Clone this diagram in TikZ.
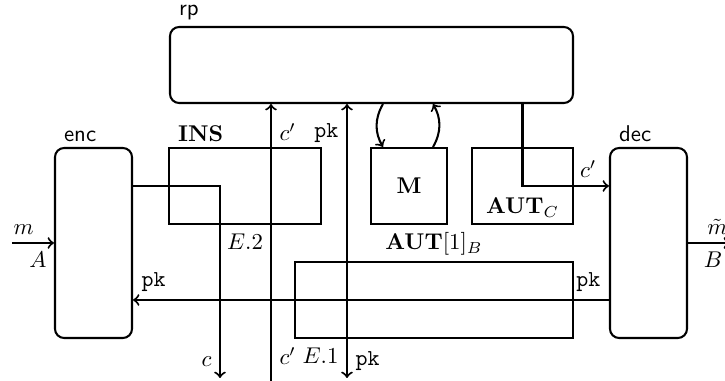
\documentclass[tikz,border=0pt]{standalone}
\usepackage{amsmath, amssymb}
\usepackage{xcolor}
\usetikzlibrary{calc}

\begin{document}
\begin{tikzpicture}[x=0.4386pt, y=-0.4386pt, line width=0.9pt,
		box/.style={draw, inner sep=0pt, minimum height=76*\px},
		party/.style={box, rounded corners, minimum width=77*\px, minimum height=190*\px},
		tag/.style={above right, inner sep=2pt, xshift=2pt}]
				\def\px{0.4386pt}
				\useasboundingbox (0,0) rectangle (725,381);
				
				\node[box, rounded corners, minimum width=403*\px] (rp) at (371.5,65) {};
				\node[party] (enc) at (93.5,243) {};
				\node[party] (dec) at (648.5,243) {};
				\node[tag, font=\sffamily] (rplab) at (rp.north west) {rp};
				\node[tag, font=\sffamily] (enclab) at (enc.north west) {enc};
				\node[tag, font=\sffamily] (declab) at (dec.north west) {dec};
				
				\node[box, minimum width=152*\px] (ins) at (245,186) {};
				\node[box, minimum width=76*\px] (M) at (409,186) {$\mathbf{M}$};
				\node[box, minimum width=101*\px, label={[anchor=south, inner sep=3pt]south:$\mathbf{AUT}_C$}] (autc) at (522.5,186) {};
				\node[box, minimum width=278*\px, label={[inner sep=2pt]above:$\mathbf{AUT}[1]_B$}] (autb) at (434,300) {};
				\node[tag] (inslab) at (ins.north west) {$\mathbf{INS}$};
				\node[below] (e2) at (ins.south) {$E.2$};
				\node[below right] (e1) at (autb.south west) {$E.1$};
				
				\coordinate (cdown) at (220,378);
				\coordinate (cup) at (271,381);
				\coordinate (pkdown) at (347,378);
				\coordinate (min) at (12,243);
				\coordinate (mout) at (730,243);
				\coordinate (loopA) at ($(M.north west)+(13,0)$);
				\coordinate (loopB) at ($(M.north east)+(-15,0)$);
				
				\draw[->] (min) -- (enc.west) node[pos=0.28, above] {$m$} node[pos=0.62, below] {$A$};
				\draw[->] (dec.east) -- (mout) node[pos=0.7, above] {$\tilde{m}$} node[pos=0.6, below] {$B$};
				
				\draw[->] (enc.east |- ins) -| (cdown) node[pos=0.958, left] {$c$};
				\draw[->] (cup) -- (cup |- rp.south) node[pos=0.09, right] {$c'$} node[pos=0.9, right] {$c'$};
				\draw[<->] (pkdown |- rp.south) -- (pkdown) node[pos=0.105, left] {\texttt{pk}} node[pos=0.94, right] {\texttt{pk}};
				
				\draw[->] (loopA |- rp.south) to[bend right=30] (loopA);
				\draw[->] (loopB) to[bend right=30] (loopB |- rp.south);
				
				\draw[->] (autc |- rp.south) |- (dec.west |- autc) node[pos=0.88, above] {$c'$};
				\draw[->] (dec.west |- autb) -- (enc.east |- autb) node[pos=0, above left] {\texttt{pk}} node[pos=1, above right] {\texttt{pk}};
			\end{tikzpicture}
\end{document}
